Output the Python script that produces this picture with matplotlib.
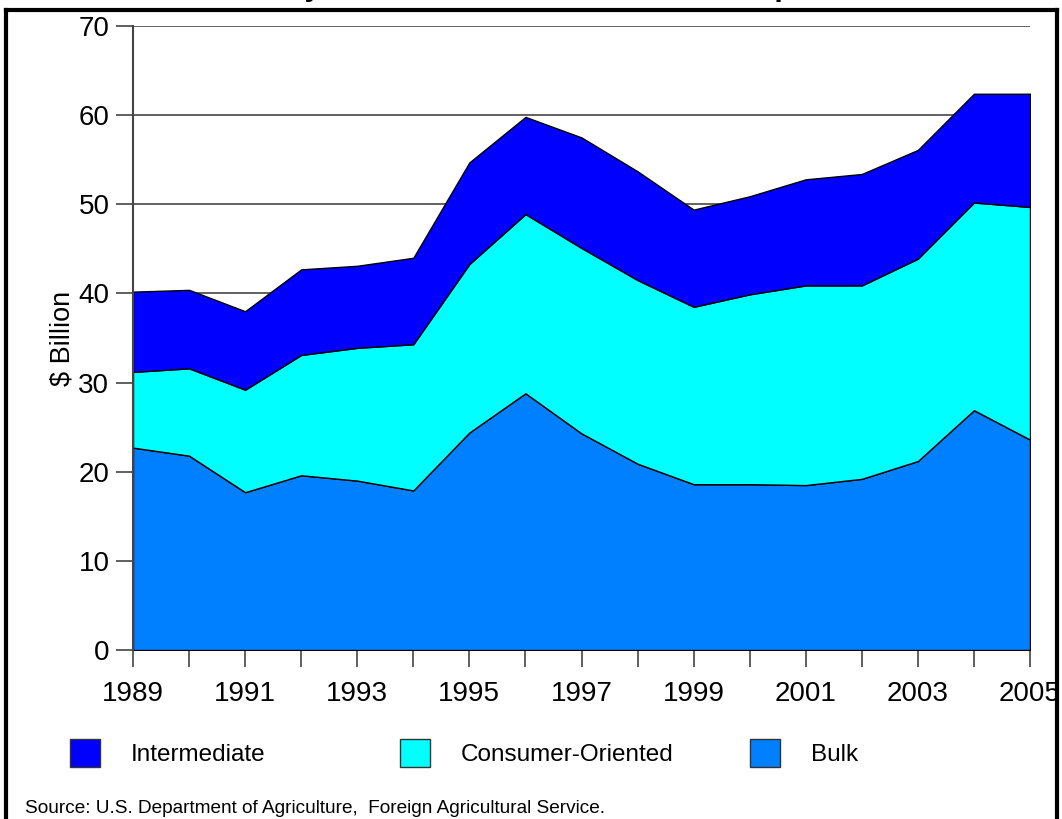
import matplotlib
matplotlib.use("Agg")
import matplotlib.pyplot as plt
from matplotlib.lines import Line2D
from matplotlib.patches import Patch

#_____________________________________________________________________________
# data, $ billion
years = list(range(1989, 2006))

bulk = [22.7, 21.8, 17.7, 19.6, 19.0, 17.9, 24.4, 28.8, 24.3, 20.9,
        18.6, 18.6, 18.5, 19.2, 21.2, 26.9, 23.6]
consumer = [8.5, 9.8, 11.5, 13.5, 14.9, 16.4, 18.9, 20.1, 20.8, 20.6,
            19.9, 21.3, 22.4, 21.7, 22.7, 23.3, 26.1]
intermediate = [9.0, 8.8, 8.8, 9.6, 9.2, 9.7, 11.4, 10.9, 12.4, 12.2,
                10.9, 11.0, 11.9, 12.5, 12.2, 12.2, 12.7]

labels = ["Intermediate", "Consumer-Oriented", "Bulk"]
colors = {"Bulk": "#0080ff", "Consumer-Oriented": "#00ffff", "Intermediate": "#0000ff"}

yticks = [0, 10, 20, 30, 40, 50, 60, 70]

#_____________________________________________________________________________
def main():

    plt.rcParams["font.family"] = ["Liberation Sans", "DejaVu Sans"]

    fig = plt.figure(figsize=(10.62, 8.19), dpi=100)
    ax = fig.add_axes([133/1062, 1-650/819, (1030-133)/1062, 624/819])

    #stacked areas
    ax.stackplot(years, bulk, consumer, intermediate,
                 colors=[colors["Bulk"], colors["Consumer-Oriented"], colors["Intermediate"]],
                 edgecolor="black", linewidth=1, zorder=3)

    ax.set_xlim(1989, 2005)
    ax.set_ylim(0, 70)

    ax.set_yticks(yticks)
    ax.set_xticks(years)
    ax.set_xticklabels([str(y) if (y-1989) % 2 == 0 else "" for y in years])
    ax.tick_params(axis="both", labelsize=20, length=12, width=1.2, color="#444444", pad=5)
    ax.tick_params(axis="x", pad=10)

    ax.grid(axis="y", color="#555555", linewidth=1.3, zorder=0)
    ax.set_axisbelow(True)

    for s in ["top", "right", "bottom"]:
        ax.spines[s].set_visible(False)
    ax.spines["left"].set_color("#444444")
    ax.spines["left"].set_linewidth(1.5)
    ax.spines["left"].set_zorder(4)

    ax.set_ylabel("$ Billion", fontsize=19.5, labelpad=2)

    #legend, one entry each at its own place
    hx = [70/1062, 400/1062, 750/1062]
    for lab, x in zip(labels, hx):
        h = Patch(facecolor=colors[lab], edgecolor="#333333", linewidth=1)
        fig.legend(handles=[h], labels=[lab], loc="center left", bbox_to_anchor=(x, 1-753/819),
                   frameon=False, fontsize=17.5, handlelength=1.25, handleheight=1.4,
                   handletextpad=1.25, borderpad=0, borderaxespad=0)

    #title, cropped by the top of the picture as in the source
    fig.text(2/1062, 1+5/819, "U.S. Farm Commodity, 1989-2005: Value of Annual Exports",
             fontsize=22, fontweight="bold", ha="left", va="baseline")

    fig.text(25/1062, 1-813/819, "Source: U.S. Department of Agriculture,  Foreign Agricultural Service.",
             fontsize=13.7, ha="left", va="baseline")

    #frame round the chart
    lw = 3
    fig.add_artist(Line2D([6/1062, 1057/1062], [1-10/819, 1-10/819], color="black", lw=lw))
    fig.add_artist(Line2D([6/1062, 6/1062], [0, 1-10/819], color="black", lw=lw))
    fig.add_artist(Line2D([1057/1062, 1057/1062], [0, 1-10/819], color="black", lw=lw))

    fig.savefig("out.png", dpi=100)
    plt.close()

#main

#_____________________________________________________________________________
if __name__ == "__main__":

    main()
